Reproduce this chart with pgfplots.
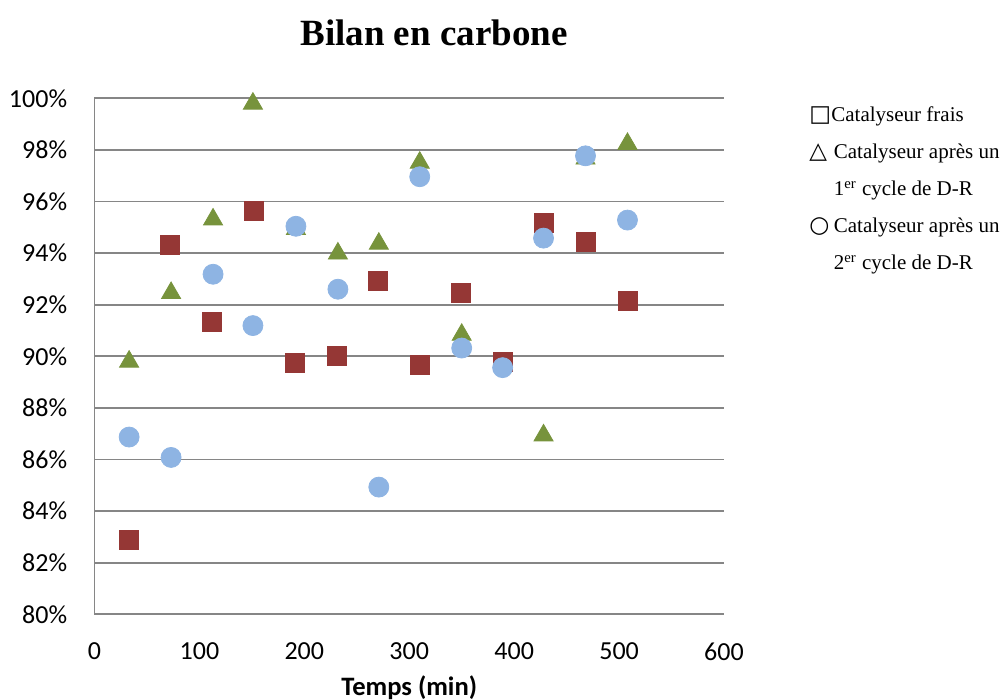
\documentclass[border=0pt]{standalone}
\usepackage{fontspec}
\setmainfont{Carlito}
\newfontfamily\timesf{Liberation Serif}
\newfontfamily\symf{DejaVu Sans}
\usepackage{pgfplots}
\pgfplotsset{compat=1.18}
\definecolor{gridgray}{HTML}{868686}
\definecolor{sqred}{HTML}{953735}
\definecolor{trigreen}{HTML}{77933C}
\definecolor{cirblue}{HTML}{8EB4E3}
\begin{document}
\begin{tikzpicture}
\path[use as bounding box] (-47.25pt,-42.85pt) rectangle (453.75pt,307.15pt);
\begin{axis}[
  at={(0,0)}, anchor=south west,
  scale only axis, width=314.75pt, height=258pt,
  xmin=0, xmax=600, ymin=80, ymax=100,
  xtick={0,100,200,300,400,500,600},
  xticklabels={0,100,200,300,400,500,600},
  ytick={80,82,84,86,88,90,92,94,96,98,100},
  yticklabels={80\%,82\%,84\%,86\%,88\%,90\%,92\%,94\%,96\%,98\%,100\%},
  axis x line*=bottom, axis y line*=left,
  major tick length=0pt,
  ymajorgrids,
  grid style={color=gridgray, line width=0.9pt},
  axis line style={color=gridgray, line width=0.9pt},
  xticklabel style={font=\fontsize{13}{15}\selectfont, inner sep=0pt, anchor=north, yshift=-14pt},
  yticklabel style={font=\fontsize{13}{15}\selectfont, inner sep=0pt, anchor=east, xshift=-13.5pt},
  xlabel={Temps (min)},
  xlabel style={font=\fontsize{13.3}{15}\selectfont\bfseries, at={(axis description cs:0.5,0)}, anchor=base, yshift=-40.5pt},
  clip=false,
]
\addplot[only marks, mark=square*, mark size=4.75pt, color=sqred, mark options={fill=sqred, draw=sqred}] coordinates {
(33,82.9) (72,94.33) (112,91.35) (152,95.65) (191,89.76) (231,90.03) (270,92.94)
(310,89.68) (349,92.47) (389,89.77) (428,95.17) (468,94.45) (508,92.16)
};
\addplot[only marks, mark=triangle*, mark size=5.5pt, color=trigreen, mark options={fill=trigreen, draw=trigreen, yshift=-1.375pt}] coordinates {
(33,89.9) (73,92.56) (113,95.41) (151,99.9) (192,95.04) (232,94.09) (271,94.47)
(310,97.61) (350,90.94) (428,87.04) (468,97.77) (508,98.34)
};
\addplot[only marks, mark=*, mark size=5pt, color=cirblue, mark options={fill=cirblue, draw=cirblue}] coordinates {
(33,86.87) (73,86.08) (113,93.18) (151,91.19) (192,95.04) (232,92.6) (271,84.93)
(310,96.96) (350,90.32) (389,89.56) (428,94.58) (468,97.77) (508,95.28)
};
\end{axis}
\node[anchor=base, font=\timesf\bfseries\fontsize{18.5}{22}\selectfont] at (169.75pt,284.15pt) {Bilan en carbone};
\begin{scope}[every node/.style={anchor=base west, inner sep=0pt, font=\timesf\fontsize{10.5}{12}\selectfont}]
\node at (357.25pt,246.15pt) {\symf\fontsize{11.5}{12}\selectfont □};
\node at (368.25pt,246.15pt) {Catalyseur frais};
\node at (357.25pt,227.65pt) {\symf\fontsize{11.5}{12}\selectfont △};
\node at (369.5pt,227.65pt) {Catalyseur après un};
\node at (369.5pt,209.15pt) {1\textsuperscript{er} cycle de D-R};
\node at (357.25pt,190.8pt) {\symf\fontsize{11.5}{12}\selectfont ○};
\node at (369.5pt,190.8pt) {Catalyseur après un};
\node at (369.5pt,172.15pt) {2\textsuperscript{er} cycle de D-R};
\end{scope}
\end{tikzpicture}
\end{document}
